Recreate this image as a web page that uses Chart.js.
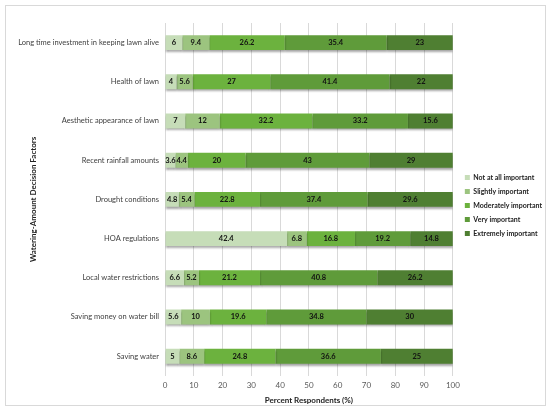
<!DOCTYPE html>
<html>
<head>
<meta charset="utf-8">
<script src="https://cdn.jsdelivr.net/npm/chart.js@4.4.0/dist/chart.umd.min.js"></script>
<style>
  html, body { margin: 0; padding: 0; background: #fff; }
  #frame { position: absolute; left: 5px; top: 5px; width: 539px; height: 399px; border: 1px solid #d9d9d9; }
  #myChart { display: block; }
</style>
</head>
<body>
<div id="frame"><canvas id="myChart" width="539" height="399"></canvas></div>
<script>
var factors = ['Long time investment in keeping lawn alive', 'Health of lawn', 'Aesthetic appearance of lawn',
    'Recent rainfall amounts', 'Drought conditions', 'HOA regulations', 'Local water restrictions',
    'Saving money on water bill', 'Saving water'];
var levels = ['Not at all important', 'Slightly important', 'Moderately important', 'Very important', 'Extremely important'];
var notAtAll   = [6, 4, 7, 3.6, 4.8, 42.4, 6.6, 5.6, 5];
var slightly   = [9.4, 5.6, 12, 4.4, 5.4, 6.8, 5.2, 10, 8.6];
var moderately = [26.2, 27, 32.2, 20, 22.8, 16.8, 21.2, 19.6, 24.8];
var very       = [35.4, 41.4, 33.2, 43, 37.4, 19.2, 40.8, 34.8, 36.6];
var extremely  = [23, 22, 15.6, 29, 29.6, 14.8, 26.2, 30, 25];
var xTicks = [0, 10, 20, 30, 40, 50, 60, 70, 80, 90, 100];

var colors = ['#c6ddb8', '#9cc47f', '#6cb23e', '#5f9b3a', '#4f7f32'];
var series = [notAtAll, slightly, moderately, very, extremely];

var fontFam = "Lato, 'Open Sans', sans-serif";

// values written in the middle of each segment
var barLabels = {
    id: 'barLabels',
    afterDatasetsDraw: function (chart) {
        var c = chart.ctx;
        c.save();
        c.font = 'bold 7.5px ' + fontFam;
        c.fillStyle = '#111';
        c.textAlign = 'center';
        c.textBaseline = 'middle';
        chart.data.datasets.forEach(function (ds, i) {
            chart.getDatasetMeta(i).data.forEach(function (bar, j) {
                var p = bar.getCenterPoint();
                c.fillText(String(ds.data[j]), p.x, p.y);
            });
        });
        c.restore();
    }
};

// soft drop shadow under the bars
var barShadow = {
    id: 'barShadow',
    beforeDatasetsDraw: function (chart) {
        var c = chart.ctx;
        c.save();
        c.shadowColor = 'rgba(0,0,0,0.35)';
        c.shadowBlur = 2;
        c.shadowOffsetY = 2;
    },
    afterDatasetsDraw: function (chart) {
        chart.ctx.restore();
    }
};

// nudge the legend a little away from the plot
var legendGap = {
    id: 'legendGap',
    afterLayout: function (chart) {
        chart.legend.left += 5;
        chart.legend.right += 5;
    }
};

var ctx = document.getElementById('myChart');

var myChart = new Chart(ctx, {
    type: 'bar',
    data: {
        labels: factors,
        datasets: series.map(function (d, i) {
            return {
                label: levels[i],
                data: d,
                backgroundColor: colors[i],
                borderWidth: 0,
                barPercentage: 0.38,
                categoryPercentage: 1
            };
        })
    },
    options: {
        indexAxis: 'y',
        responsive: false,
        animation: false,
        layout: { padding: { left: 10, right: -2, top: 17, bottom: 0 } },
        plugins: {
            legend: {
                position: 'right',
                fullSize: false,
                title: { display: true, text: ' ', padding: 3, font: { size: 5 } },
                labels: {
                    boxWidth: 5,
                    boxHeight: 5,
                    padding: 7,
                    color: '#222',
                    font: { family: fontFam, size: 7, weight: 'bold' }
                }
            },
            tooltip: { enabled: false }
        },
        scales: {
            x: {
                stacked: true,
                min: 0,
                max: 100,
                afterBuildTicks: function (axis) {
                    axis.ticks = xTicks.map(function (v) { return { value: v }; });
                },
                grid: { color: '#d9d9d9', drawTicks: false },
                border: { display: false },
                ticks: { color: '#595959', padding: 5, font: { family: fontFam, size: 8 } },
                title: {
                    display: true,
                    text: 'Percent Respondents (%)',
                    color: '#222',
                    padding: { top: 0, bottom: 0 },
                    font: { family: fontFam, size: 8, weight: 'bold' }
                }
            },
            y: {
                stacked: true,
                grid: { display: false, drawTicks: false },
                border: { display: false },
                ticks: { color: '#404040', padding: 6, font: { family: fontFam, size: 7.5 } },
                afterFit: function (axis) { axis.width = 149; },
                title: {
                    display: true,
                    text: 'Watering-Amount Decision Factors',
                    color: '#222',
                    padding: { top: 13, bottom: 0 },
                    font: { family: fontFam, size: 8, weight: 'bold' }
                }
            }
        }
    },
    plugins: [barShadow, barLabels, legendGap]
});
</script>
</body>
</html>
